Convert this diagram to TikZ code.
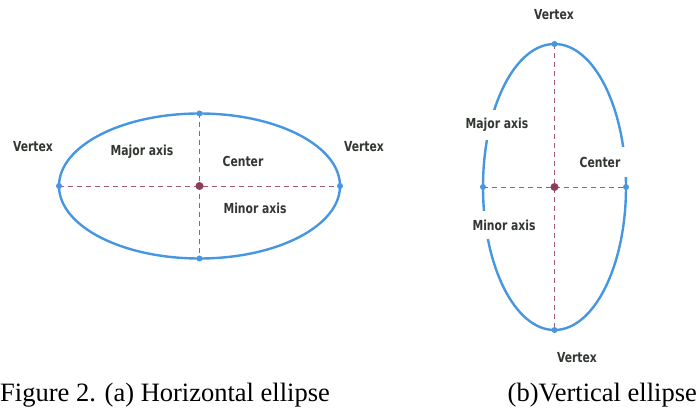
\documentclass[tikz,border=0pt]{standalone}
\usepackage{fontspec}
\setmainfont{Liberation Serif}
\newfontfamily\lblfont{DejaVu Sans Condensed}
\definecolor{ellblue}{RGB}{70,150,225}
\definecolor{axcol}{RGB}{165,90,115}
\definecolor{ctrcol}{RGB}{140,60,90}
\definecolor{lblcol}{RGB}{50,55,50}
\newcommand{\tallt}[1]{\scalebox{1}[1.15]{#1}}
\tikzset{
  ell/.style={draw=ellblue, line width=2.4pt},
  axis/.style={draw=axcol, line width=0.7pt, dash pattern=on 5pt off 4pt},
  vdot/.style={circle, fill=ellblue, inner sep=0pt, minimum size=6pt},
  cdot/.style={circle, fill=ctrcol, inner sep=0pt, minimum size=8pt},
  lbl/.style={font=\lblfont\bfseries\fontsize{12}{14}\selectfont, text=lblcol, inner sep=1pt},
  gaplbl/.style={lbl, fill=white, minimum height=30pt, inner xsep=2pt},
  captxt/.style={font=\fontsize{26.5}{30}\selectfont, text=black, inner sep=0pt}
}
\begin{document}
\begin{tikzpicture}[x=1pt, y=-1pt]
\useasboundingbox (0,0) rectangle (697,414);
% (a) horizontal ellipse
\coordinate (hc) at (199.5,186);
\draw[ell] (hc) ellipse [x radius=140.5, y radius=72.5];
\coordinate (hl) at (59,186);
\coordinate (hr) at (340,186);
\coordinate (ht) at (199.5,113.5);
\coordinate (hb) at (199.5,258.5);
\draw[axis] (hl) -- (hr);
\draw[axis] (ht) -- (hb);
\node[vdot] (hlv) at (hl) {};
\node[vdot] (hrv) at (hr) {};
\node[vdot] (htv) at (ht) {};
\node[vdot] (hbv) at (hb) {};
\node[cdot] (hcd) at (hc) {};
\node[lbl] (hvl) at (33,147) {\tallt{Vertex}};
\node[lbl] (hvr) at (364,147) {\tallt{Vertex}};
\node[lbl] (hmaj) at (142,152) {\tallt{Major axis}};
\node[lbl] (hcen) at (243,161) {\tallt{Center}};
\node[lbl] (hmin) at (255,208) {\tallt{Minor axis}};
% (b) vertical ellipse
\coordinate (vc) at (554.5,187);
\draw[ell] (vc) ellipse [x radius=71.5, y radius=143];
\coordinate (vl) at (483,187);
\coordinate (vr) at (626,187);
\coordinate (vt) at (554.5,44);
\coordinate (vb) at (554.5,330);
\node[gaplbl] (vmaj) at (497,125) {\tallt{Major axis}};
\node[gaplbl, minimum width=57pt] (vcen) at (600,162) {\tallt{Center}};
\node[gaplbl, minimum height=28pt] (vmin) at (504,225) {\tallt{Minor axis}};
\draw[axis] (vl) -- (vr);
\draw[axis] (vt) -- (vb);
\node[vdot] (vlv) at (vl) {};
\node[vdot] (vrv) at (vr) {};
\node[vdot] (vtv) at (vt) {};
\node[vdot] (vbv) at (vb) {};
\node[cdot] (vcd) at (vc) {};
\node[lbl] (vvt) at (554,15) {\tallt{Vertex}};
\node[lbl] (vvb) at (577,358) {\tallt{Vertex}};
% captions
\node[captxt, anchor=base west] (capa) at (0,402) {Figure 2. (a) Horizontal ellipse};
\node[captxt, anchor=base east] (capb) at (697,402) {(b)Vertical ellipse};
\end{tikzpicture}
\end{document}
